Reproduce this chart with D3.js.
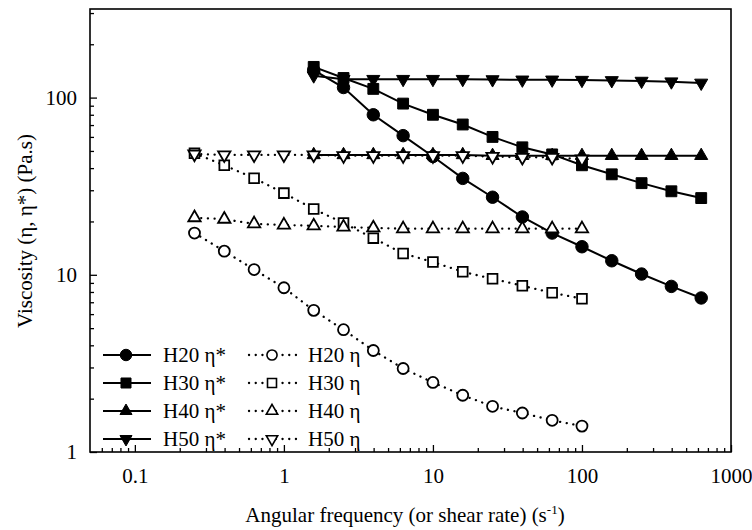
<!DOCTYPE html>
<html lang="en">
<head>
<meta charset="utf-8">
<title>Viscosity</title>
<script src="https://d3js.org/d3.v7.min.js"></script>
<style>
  body { margin: 0; background: #fff; }
  svg text { font-family: "Liberation Serif", "Times New Roman", serif; fill: #000; }
  .tick text { font-size: 21px; }
  .axis path.domain { display: none; }
  .axis line { stroke: #000; stroke-width: 1.3; }
</style>
</head>
<body>
<div id="chart"></div>
<script>
// frequencies (rad/s) for the oscillatory runs (eta*) and the flow runs (eta)
const freqStar = [1.585, 2.512, 3.981, 6.31, 10, 15.85, 25.12, 39.81, 63.1, 100, 158.5, 251.2, 398.1, 631];
const freqEta  = [0.2512, 0.3981, 0.631, 1, 1.585, 2.512, 3.981, 6.31, 10, 15.85, 25.12, 39.81, 63.1, 100];

const h20Star = [143, 114, 80, 61, 46.5, 35, 27.4, 21.2, 17.2, 14.4, 12.0, 10.1, 8.6, 7.4];
const h30Star = [149, 129, 112, 92.5, 80, 70.5, 60, 52.4, 47.8, 41.5, 36.9, 32.9, 29.6, 27.1];
const h40Star = [47.5, 47.5, 47.5, 47.5, 47.5, 47.5, 47, 47, 47, 47, 47, 47, 47, 47];
const h50Star = [133, 127, 127, 127, 127, 127, 126.5, 126, 126, 125.5, 125, 124, 123, 121];

const h20Eta = [17.2, 13.6, 10.7, 8.45, 6.3, 4.9, 3.74, 2.96, 2.47, 2.09, 1.81, 1.66, 1.51, 1.40];
const h30Eta = [48.5, 41.5, 35.1, 28.9, 23.5, 19.6, 16.1, 13.2, 11.8, 10.4, 9.5, 8.67, 7.92, 7.33];
const h40Eta = [21, 20.6, 19.4, 19.1, 18.9, 18.6, 18.4, 18.2, 18.2, 18.2, 18.2, 18.2, 18.2, 18.2];
const h50Eta = [48, 47.5, 47.5, 47.5, 47.5, 47, 47, 47, 47, 47, 46.5, 46, 46, 45];

const samples = ["H20", "H30", "H40", "H50"];
const xTicks = [0.1, 1, 10, 100, 1000];
const xTickLabels = ["0.1", "1", "10", "100", "1000"];
const yTicks = [1, 10, 100];
const yTickLabels = ["1", "10", "100"];

const width = 752, height = 530;
const marginLeft = 90, marginRight = 21, marginTop = 9, marginBottom = 78;
const plotW = width - marginLeft - marginRight;
const plotH = height - marginTop - marginBottom;

const svg = d3.select("#chart").append("svg")
  .attr("width", width).attr("height", height)
  .attr("viewBox", [0, 0, width, height]);

const x = d3.scaleLog().domain([0.05, 1000]).range([0, plotW]);
const y = d3.scaleLog().domain([1, Math.pow(10, 2.5)]).range([plotH, 0]);

const g = svg.append("g").attr("transform", "translate(" + marginLeft + "," + marginTop + ")");

// minor tick positions
function minors(lo, hi) {
  const out = [];
  for (let k = -3; k <= 3; k++) {
    for (let m = 2; m <= 9; m++) {
      const v = m * Math.pow(10, k);
      if (v > lo && v < hi) out.push(v);
    }
  }
  return out;
}

// x axis (ticks inward)
g.append("g").attr("class", "axis")
  .attr("transform", "translate(0," + plotH + ")")
  .call(d3.axisBottom(x).tickValues(xTicks).tickFormat((d, i) => xTickLabels[i])
    .tickSize(-7).tickPadding(16));
g.append("g").attr("class", "axis")
  .attr("transform", "translate(0," + plotH + ")")
  .call(d3.axisBottom(x).tickValues(minors(0.05, 1000)).tickFormat("").tickSize(-4));

// y axis
g.append("g").attr("class", "axis")
  .call(d3.axisLeft(y).tickValues(yTicks).tickFormat((d, i) => yTickLabels[i])
    .tickSize(-7).tickPadding(13));
g.append("g").attr("class", "axis")
  .call(d3.axisLeft(y).tickValues(minors(1, Math.pow(10, 2.5))).tickFormat("").tickSize(-4));

// frame
g.append("rect")
  .attr("width", plotW).attr("height", plotH)
  .attr("fill", "none").attr("stroke", "#000").attr("stroke-width", 1.6);

const symbolTypes = [d3.symbolCircle, d3.symbolSquare, d3.symbolTriangle, d3.symbolTriangle];
const symbolRot = [0, 0, 0, 180];
const filledSize = [122, 118, 74, 74];
const openSize = [95, 95, 66, 66];

const starSets = [h20Star, h30Star, h40Star, h50Star];
const etaSets = [h20Eta, h30Eta, h40Eta, h50Eta];

const line = d3.line().x(d => x(d[0])).y(d => y(d[1]));

function drawSeries(freqs, vals, i, filled) {
  const pts = freqs.map((f, j) => [f, vals[j]]);
  g.append("path")
    .datum(pts)
    .attr("d", line)
    .attr("fill", "none")
    .attr("stroke", "#000")
    .attr("stroke-width", filled ? 2 : 2.3)
    .attr("stroke-dasharray", filled ? null : "0.1,6.6")
    .attr("stroke-linecap", filled ? "butt" : "round");
  g.append("g").selectAll("path")
    .data(pts)
    .join("path")
    .attr("transform", d => "translate(" + x(d[0]) + "," + y(d[1]) + ") rotate(" + symbolRot[i] + ")")
    .attr("d", d3.symbol().type(symbolTypes[i]).size(filled ? filledSize[i] : openSize[i]))
    .attr("fill", filled ? "#000" : "#fff")
    .attr("stroke", "#000")
    .attr("stroke-width", filled ? 1 : 1.8);
}

starSets.forEach((vals, i) => drawSeries(freqStar, vals, i, true));
etaSets.forEach((vals, i) => drawSeries(freqEta, vals, i, false));

// legend
const legendRowY = [355, 383, 411, 439];
const legend = svg.append("g");
samples.forEach((name, i) => {
  const yy = legendRowY[i];
  // solid
  legend.append("line").attr("x1", 103).attr("x2", 151).attr("y1", yy).attr("y2", yy)
    .attr("stroke", "#000").attr("stroke-width", 2);
  legend.append("path")
    .attr("transform", "translate(126," + yy + ") rotate(" + symbolRot[i] + ")")
    .attr("d", d3.symbol().type(symbolTypes[i]).size(filledSize[i] * 0.85))
    .attr("fill", "#000").attr("stroke", "#000").attr("stroke-width", 1);
  legend.append("text").attr("x", 163).attr("y", yy + 7).style("font-size", "21px")
    .text(name + " \u03b7*");
  // dotted
  legend.append("line").attr("x1", 249).attr("x2", 297).attr("y1", yy).attr("y2", yy)
    .attr("stroke", "#000").attr("stroke-width", 2.3)
    .attr("stroke-dasharray", "0.1,6.6").attr("stroke-linecap", "round");
  legend.append("path")
    .attr("transform", "translate(272," + yy + ") rotate(" + symbolRot[i] + ")")
    .attr("d", d3.symbol().type(symbolTypes[i]).size(openSize[i] * 0.85))
    .attr("fill", "#fff").attr("stroke", "#000").attr("stroke-width", 1.6);
  legend.append("text").attr("x", 308).attr("y", yy + 7).style("font-size", "21px")
    .text(name + " \u03b7");
});

// axis titles
const xt = svg.append("text")
  .attr("x", 405).attr("y", 522)
  .attr("text-anchor", "middle").style("font-size", "21px");
xt.append("tspan").text("Angular frequency (or shear rate) (s");
xt.append("tspan").attr("dy", -8).style("font-size", "13px").text("-1");
xt.append("tspan").attr("dy", 8).text(")");

svg.append("text")
  .attr("transform", "translate(32,231) rotate(-90)")
  .attr("text-anchor", "middle").style("font-size", "21px")
  .text("Viscosity (\u03b7, \u03b7*) (Pa.s)");
</script>
</body>
</html>
